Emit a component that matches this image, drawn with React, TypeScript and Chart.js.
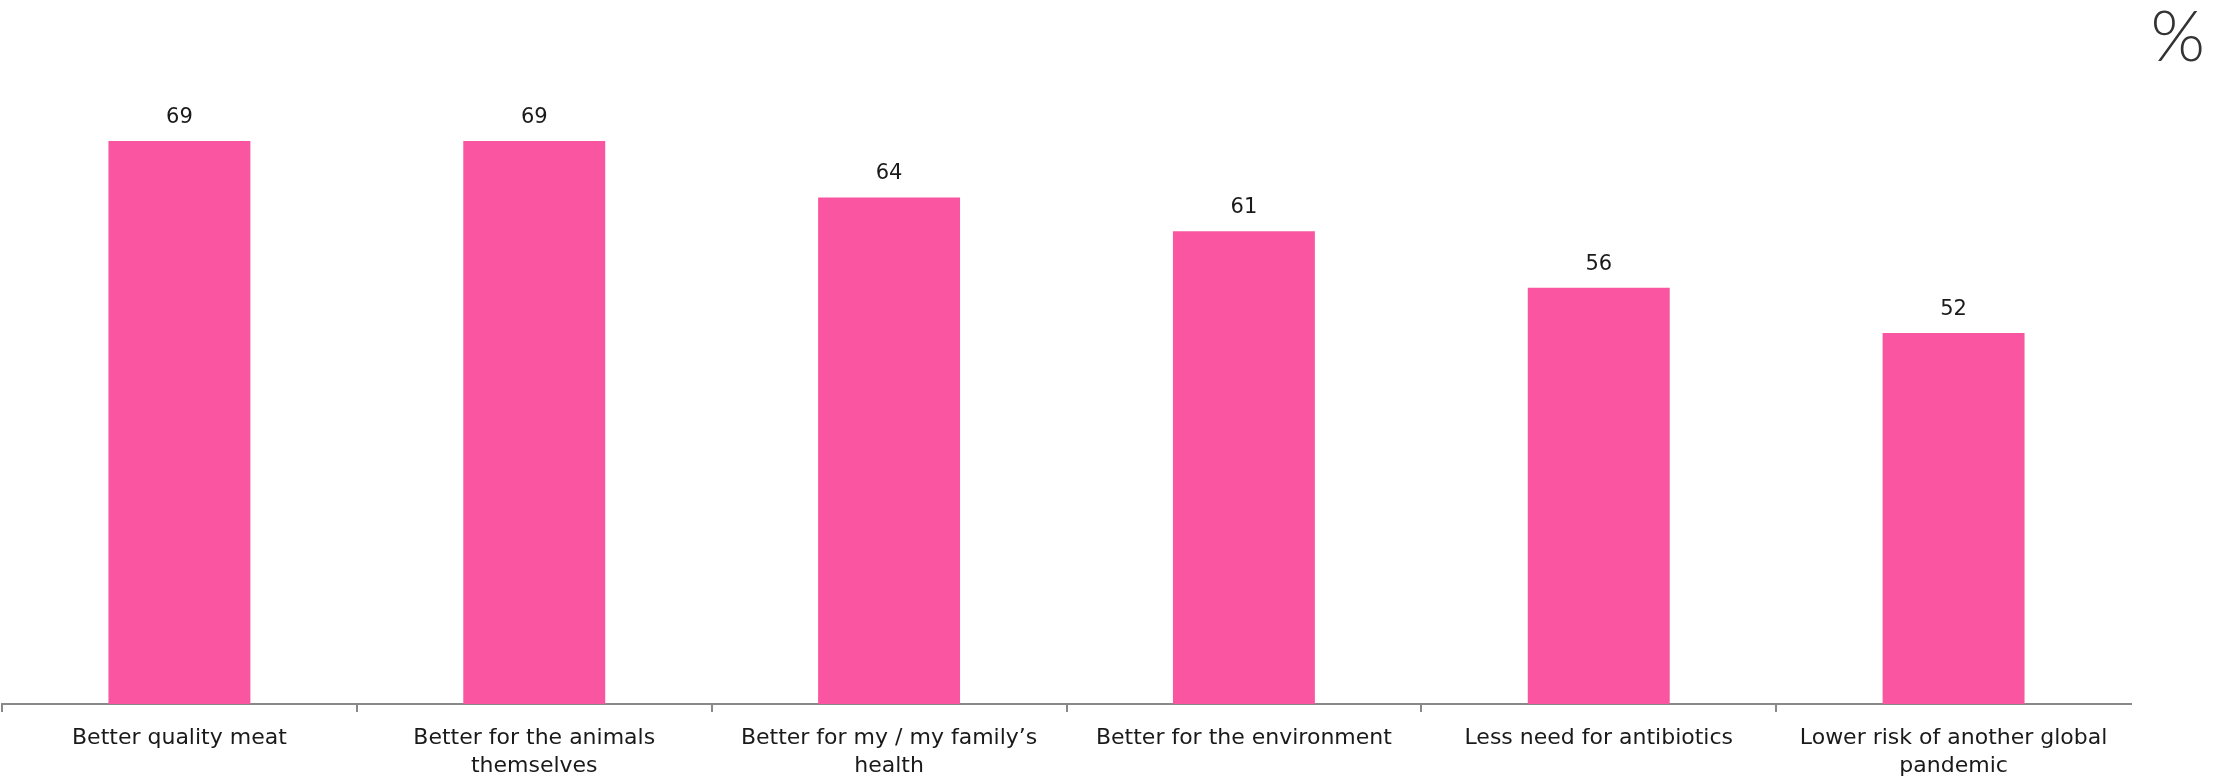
import React, { useEffect, useRef } from "react";
import { Chart, registerables } from "chart.js";

Chart.register(...registerables);

const categories: string[][] = [
  ["Better quality meat"],
  ["Better for the animals", "themselves"],
  ["Better for my / my family\u2019s", "health"],
  ["Better for the environment"],
  ["Less need for antibiotics"],
  ["Lower risk of another global", "pandemic"],
];
const values: number[] = [69, 69, 64, 61, 56, 52];
const unitLabel = "%";

const BAR_COLOR = "#FA55A0";
const AXIS_COLOR = "#898989";
const TEXT_COLOR = "#1a1a1a";
const FONT = "'DejaVu Sans', 'Noto Sans', sans-serif";
const PCT_FONT = "Lato, 'Noto Sans', sans-serif";

const valueLabelPlugin = {
  id: "valueLabels",
  afterDatasetsDraw(chart: any) {
    const ctx = chart.ctx;
    const meta = chart.getDatasetMeta(0);
    ctx.save();
    ctx.font = `21px ${FONT}`;
    ctx.fillStyle = TEXT_COLOR;
    ctx.textAlign = "center";
    ctx.textBaseline = "alphabetic";
    meta.data.forEach((bar: any, i: number) => {
      ctx.fillText(String(values[i]), bar.x, bar.y - 18);
    });
    ctx.restore();
  },
};

export default function App() {
  const canvasRef = useRef<HTMLCanvasElement | null>(null);

  useEffect(() => {
    document.body.style.margin = "0";
    const canvas = canvasRef.current;
    if (!canvas) return;
    const chart = new Chart(canvas, {
      type: "bar",
      data: {
        labels: categories,
        datasets: [
          {
            data: values,
            backgroundColor: BAR_COLOR,
            borderWidth: 0,
            categoryPercentage: 1,
            barPercentage: 0.4,
          },
        ],
      },
      options: {
        animation: false,
        responsive: true,
        maintainAspectRatio: false,
        devicePixelRatio: 1,
        layout: { padding: { left: 2, right: 90, top: 60, bottom: 0 } },
        plugins: {
          legend: { display: false },
          tooltip: { enabled: false },
          title: { display: false },
        },
        scales: {
          x: {
            offset: true,
            afterFit: (scale: any) => {
              scale.height = 75;
            },
            grid: {
              display: true,
              drawOnChartArea: false,
              drawTicks: true,
              tickLength: 8,
              offset: true,
              lineWidth: 2,
              color: (c: any) => (c.type === "tick" ? AXIS_COLOR : "rgba(0,0,0,0)"),
            },
            border: { display: true, color: AXIS_COLOR, width: 2 },
            ticks: {
              color: TEXT_COLOR,
              font: { family: FONT, size: 22, lineHeight: 1.27 },
              padding: 12,
              maxRotation: 0,
              minRotation: 0,
              autoSkip: false,
            },
          },
          y: {
            display: false,
            min: 19.15,
            max: 76.17,
          },
        },
      },
      plugins: [valueLabelPlugin],
    });
    return () => chart.destroy();
  }, []);

  return (
    <div style={{ position: "absolute", left: 0, top: 0, width: 2221, height: 779 }}>
      <canvas ref={canvasRef} />
      <div
        style={{
          position: "absolute",
          right: 16,
          top: -1,
          fontFamily: PCT_FONT,
          fontSize: 70,
          lineHeight: 1,
          fontWeight: 300,
          color: "#333333",
        }}
      >
        {unitLabel}
      </div>
    </div>
  );
}
